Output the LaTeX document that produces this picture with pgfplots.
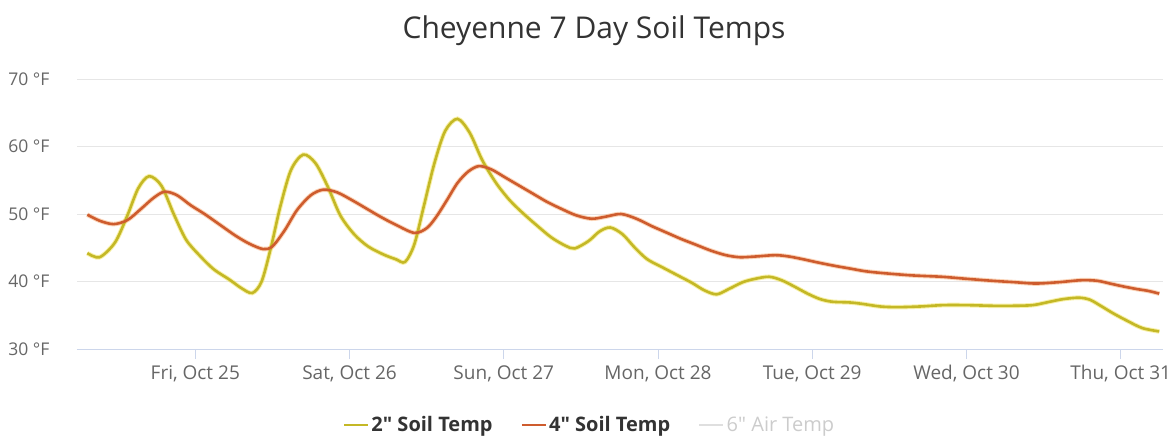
\documentclass[border=0pt]{standalone}
\usepackage{pgfplots}
\pgfplotsset{compat=1.18}
\usepackage{pgfplotstable}
\usepackage{fontspec}
\setmainfont{Open Sans}[Ligatures=TeXOff]
\definecolor{ycol}{RGB}{196,184,38}
\definecolor{yglow}{RGB}{240,225,80}
\definecolor{ocol}{RGB}{206,92,46}
\definecolor{oglow}{RGB}{245,150,80}
\definecolor{gridc}{RGB}{230,230,230}
\definecolor{axc}{RGB}{204,214,235}
\definecolor{labc}{RGB}{102,102,102}
\definecolor{titc}{RGB}{51,51,51}
\pgfplotstableread{
d v
-0.70 44.2
-0.62 43.6
-0.52 45.8
-0.44 49.8
-0.37 53.8
-0.30 55.6
-0.22 54.2
-0.14 50.0
-0.06 46.2
0.03 43.8
0.12 41.8
0.22 40.3
0.30 39.0
0.37 38.3
0.43 40.0
0.49 45.0
0.55 51.0
0.62 56.5
0.70 58.8
0.78 57.5
0.86 54.0
0.94 49.8
1.03 47.0
1.12 45.2
1.22 44.0
1.30 43.3
1.36 42.9
1.42 45.5
1.48 51.0
1.55 57.5
1.62 62.3
1.70 64.1
1.78 62.0
1.86 58.0
1.95 54.6
2.04 52.0
2.13 50.0
2.22 48.2
2.31 46.5
2.40 45.3
2.46 44.9
2.55 46.0
2.62 47.4
2.69 48.0
2.77 47.0
2.85 45.0
2.93 43.3
3.02 42.2
3.12 41.0
3.22 39.8
3.30 38.7
3.38 38.1
3.46 38.9
3.55 39.9
3.63 40.4
3.72 40.7
3.80 40.2
3.88 39.3
3.97 38.2
4.05 37.4
4.13 37.0
4.24 36.9
4.32 36.7
4.44 36.3
4.55 36.2
4.70 36.3
4.85 36.5
5.00 36.5
5.17 36.4
5.30 36.4
5.43 36.5
5.54 37.0
5.63 37.4
5.73 37.6
5.80 37.3
5.87 36.4
5.95 35.3
6.04 34.2
6.14 33.1
6.25 32.6
}\twoinch
\pgfplotstableread{
d v
-0.70 49.9
-0.62 49.0
-0.53 48.5
-0.44 49.1
-0.35 50.8
-0.27 52.4
-0.20 53.3
-0.12 52.8
-0.03 51.3
0.06 50.0
0.16 48.4
0.26 46.8
0.35 45.6
0.44 44.8
0.50 45.2
0.58 47.6
0.66 50.6
0.75 52.8
0.83 53.6
0.92 53.2
1.02 52.0
1.11 50.8
1.20 49.6
1.30 48.4
1.42 47.2
1.50 47.9
1.56 49.5
1.63 52.0
1.70 54.6
1.77 56.3
1.84 57.1
1.92 56.6
2.01 55.4
2.10 54.2
2.19 53.0
2.28 51.8
2.37 50.8
2.47 49.8
2.57 49.3
2.66 49.6
2.76 50.0
2.86 49.3
2.96 48.2
3.06 47.2
3.15 46.3
3.24 45.5
3.34 44.6
3.44 43.9
3.53 43.6
3.63 43.7
3.76 43.9
3.85 43.7
3.94 43.3
4.04 42.8
4.15 42.3
4.25 41.9
4.35 41.5
4.48 41.2
4.65 40.9
4.84 40.7
5.00 40.4
5.17 40.1
5.31 39.9
5.45 39.7
5.60 39.9
5.75 40.2
5.85 40.1
5.93 39.7
6.01 39.3
6.10 38.9
6.18 38.6
6.25 38.2
}\fourinch
\begin{document}
\begin{tikzpicture}
\useasboundingbox (0,0) rectangle (1176pt,437pt);
\node[text=titc, font=\fontsize{30}{36}\selectfont, anchor=base] at (594pt,398pt) {Cheyenne 7 Day Soil Temps};
\begin{axis}[
  at={(77pt,88pt)}, anchor=south west,
  scale only axis, width=1086pt, height=270pt,
  xmin=-0.767, xmax=6.274, ymin=30, ymax=70,
  xtick={0,1,2,3,4,5,6},
  xticklabels={{Fri, Oct 25},{Sat, Oct 26},{Sun, Oct 27},{Mon, Oct 28},{Tue, Oct 29},{Wed, Oct 30},{Thu, Oct 31}},
  ytick={30,40,50,60,70},
  yticklabels={30 °F,40 °F,50 °F,60 °F,70 °F},
  axis x line*=bottom, axis y line*=left,
  y axis line style={draw=none},
  x axis line style={draw=axc, line width=1pt},
  ytick style={draw=none},
  xtick style={draw=axc, line width=1pt},
  tick align=outside, major tick length=10pt,
  ymajorgrids, grid style={draw=gridc, line width=1pt},
  yticklabel style={text=labc, font=\fontsize{17.5}{21}\selectfont, xshift=-14pt},
  xticklabel style={text=labc, font=\fontsize{19}{22}\selectfont, yshift=-3pt},
  legend columns=3,
  legend style={at={(0.472,-0.281)}, anchor=center, draw=none, fill=none,
    font=\bfseries\fontsize{20}{24}\selectfont, text=titc,
    /tikz/every even column/.append style={column sep=26pt}},
  legend image code/.code={\draw[#1, line width=2.5pt] (0pt,0pt) -- (24pt,0pt);},
  clip=false,
]
\addplot[yglow, opacity=0.5, line width=4.6pt, smooth, tension=0.5, forget plot] table[x=d,y=v] {\twoinch};
\addplot[oglow, opacity=0.4, line width=4.6pt, smooth, tension=0.5, forget plot] table[x=d,y=v] {\fourinch};
\addplot[ycol, line width=2.6pt, smooth, tension=0.5] table[x=d,y=v] {\twoinch};
\addlegendentry{2" Soil Temp}
\addplot[ocol, line width=2.6pt, smooth, tension=0.5] table[x=d,y=v] {\fourinch};
\addlegendentry{4" Soil Temp}
\addlegendimage{gray!25}
\addlegendentry{\textcolor{gray!40}{\mdseries 6" Air Temp}}
\end{axis}
\end{tikzpicture}
\end{document}
